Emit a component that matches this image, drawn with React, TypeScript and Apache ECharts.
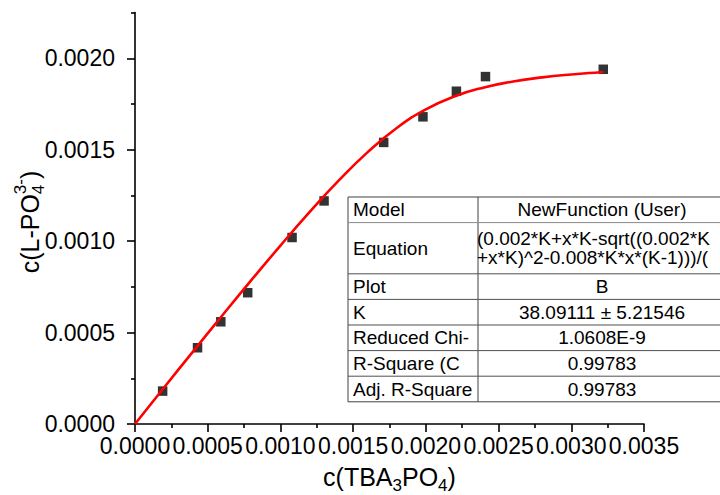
import React, { useEffect, useRef } from "react";
import * as echarts from "echarts";

// Measured binding data: c(TBA3PO4) vs c(L-PO4 3-)
const concTBA = [0.00019, 0.00043, 0.00059, 0.000775, 0.00108, 0.0013, 0.00171, 0.00198, 0.00221, 0.00241, 0.00322];
const concBound = [0.00018, 0.000417, 0.000559, 0.000718, 0.00102, 0.00122, 0.00154, 0.00168, 0.00182, 0.0019, 0.00194];

// Fitted curve (NewFunction, K = 38.09111) sampled along x
const fitX = [0, 0.0002, 0.0004, 0.0006, 0.0008, 0.001, 0.0012, 0.0014, 0.0016, 0.0018, 0.002, 0.0022, 0.0024, 0.0026, 0.0028, 0.003, 0.0032, 0.00322];
const fitY = [0, 0.0001994, 0.0003974, 0.0005934, 0.0007866, 0.0009756, 0.0011582, 0.0013306, 0.0014869, 0.0016192, 0.0017211, 0.0017928, 0.0018409, 0.0018732, 0.0018957, 0.0019118, 0.0019239, 0.0019249];

// Axis ticks
const yMajorTicks = [0, 0.0005, 0.001, 0.0015, 0.002];
const yMinorTicks = [0.00025, 0.00075, 0.00125, 0.00175, 0.00225];

// Fit report table
const tableLabels = ["Model", "Equation", "Plot", "K", "Reduced Chi-", "R-Square (C", "Adj. R-Square"];
const tableValues = [
  "NewFunction (User)",
  "(0.002*K+x*K-sqrt((0.002*K\n+x*K)^2-0.008*K*x*(K-1)))/(",
  "B",
  "38.09111 \u00b1 5.21546",
  "1.0608E-9",
  "0.99783",
  "0.99783",
];
const tableRowUnits = [1, 2, 1, 1, 1, 1, 1];

const FONT = '"Liberation Sans", Arial, Helvetica, sans-serif';

function measure(text: string, size: number): number {
  const ctx = document.createElement("canvas").getContext("2d");
  if (!ctx) return text.length * size * 0.55;
  ctx.font = `${size}px "Liberation Sans", Arial, sans-serif`;
  return ctx.measureText(text).width;
}

type Piece = { text: string; size: number; dy: number; stackWithPrev?: boolean };

// Lay out a run of text pieces (base text, subscripts, superscripts) left to right
function buildRun(pieces: Piece[]) {
  const out: any[] = [];
  let cursor = 0;
  let prevStart = 0;
  let prevWidth = 0;
  pieces.forEach((p) => {
    const w = measure(p.text, p.size);
    let x = cursor;
    if (p.stackWithPrev) {
      x = prevStart;
      cursor = prevStart + Math.max(prevWidth, w);
    } else {
      cursor += w;
    }
    prevStart = x;
    prevWidth = w;
    out.push({
      type: "text",
      x,
      y: p.dy,
      style: {
        text: p.text,
        fontSize: p.size,
        fontFamily: FONT,
        fill: "#000",
        align: "left",
        verticalAlign: "middle",
      },
    });
  });
  return { children: out, width: cursor };
}

function buildTable() {
  const left = 348;
  const top = 197;
  const divider = 478;
  const right = 726;
  const unit = 25.6;
  const totalH = tableRowUnits.reduce((a, b) => a + b, 0) * unit;
  const els: any[] = [];
  els.push({
    type: "rect",
    shape: { x: left, y: top, width: right - left, height: totalH },
    style: { fill: "#fff", stroke: "#404040", lineWidth: 1 },
  });
  els.push({
    type: "line",
    shape: { x1: divider, y1: top, x2: divider, y2: top + totalH },
    style: { stroke: "#404040", lineWidth: 1 },
  });
  let y = top;
  tableLabels.forEach((label, i) => {
    const h = tableRowUnits[i] * unit;
    if (i > 0) {
      els.push({
        type: "line",
        shape: { x1: left, y1: y, x2: right, y2: y },
        style: { stroke: i === 1 ? "#8a8a8a" : "#505050", lineWidth: 1 },
      });
    }
    els.push({
      type: "text",
      x: left + 5,
      y: y + h / 2,
      style: { text: label, fontSize: 19, fontFamily: FONT, fill: "#000", align: "left", verticalAlign: "middle" },
    });
    const multi = tableValues[i].includes("\n");
    els.push({
      type: "text",
      x: multi ? divider - 1 : (divider + right) / 2,
      y: y + h / 2,
      style: {
        text: tableValues[i],
        fontSize: 19,
        lineHeight: 19,
        fontFamily: FONT,
        fill: "#000",
        align: multi ? "left" : "center",
        verticalAlign: "middle",
      },
    });
    y += h;
  });
  return els;
}

export default function App() {
  const ref = useRef<HTMLDivElement>(null);

  useEffect(() => {
    if (!ref.current) return;
    const chart = echarts.init(ref.current, null, { renderer: "svg" });

    const xTitle = buildRun([
      { text: "c(TBA", size: 25, dy: 0 },
      { text: "3", size: 17, dy: 8 },
      { text: "PO", size: 25, dy: 0 },
      { text: "4", size: 17, dy: 8 },
      { text: ")", size: 25, dy: 0 },
    ]);
    const yTitle = buildRun([
      { text: "c(L-PO", size: 25, dy: 0 },
      { text: "4", size: 17, dy: 8 },
      { text: "3-", size: 17, dy: -10, stackWithPrev: true },
      { text: ")", size: 25, dy: 0 },
    ]);

    const tickFmt = (v: number) => {
      const r = v / 0.0005;
      return Math.abs(r - Math.round(r)) < 1e-6 ? v.toFixed(4) : "";
    };

    const axisLine = { show: true, lineStyle: { color: "#000", width: 1.6 } };

    chart.setOption({
      animation: false,
      backgroundColor: "#fff",
      grid: { left: 135, right: 76, top: 12.6, bottom: 71, containLabel: false, outerBoundsMode: "none" },
      xAxis: {
        type: "value",
        min: 0,
        max: 0.0035,
        interval: 0.0005,
        axisLine,
        axisTick: { show: true, inside: false, length: 8, lineStyle: { color: "#000", width: 1.6 } },
        minorTick: { show: true, splitNumber: 2, length: 4, lineStyle: { color: "#000", width: 1.6 } },
        axisLabel: { fontSize: 23, fontFamily: FONT, color: "#000", margin: 10, formatter: tickFmt },
        splitLine: { show: false },
        minorSplitLine: { show: false },
      },
      yAxis: [
        {
          type: "value",
          position: "left",
          min: 0,
          max: 0.00225,
          interval: 0.0005,
          axisLine,
          axisTick: {
            show: true,
            inside: false,
            length: 8,
            customValues: yMajorTicks,
            lineStyle: { color: "#000", width: 1.6 },
          },
          axisLabel: {
            fontSize: 23,
            fontFamily: FONT,
            color: "#000",
            margin: 20,
            customValues: yMajorTicks,
            formatter: tickFmt,
          },
          splitLine: { show: false },
        },
        {
          type: "value",
          position: "left",
          offset: 0,
          min: 0,
          max: 0.00225,
          interval: 0.00025,
          axisLine: { show: false },
          axisTick: {
            show: true,
            inside: false,
            length: 4,
            customValues: yMinorTicks,
            lineStyle: { color: "#000", width: 1.6 },
          },
          axisLabel: { show: false },
          splitLine: { show: false },
        },
      ],
      series: [
        {
          type: "scatter",
          yAxisIndex: 0,
          symbol: "rect",
          symbolSize: 9.5,
          itemStyle: { color: "#000" },
          data: concTBA.map((x, i) => [x, concBound[i]]),
        },
        {
          type: "line",
          yAxisIndex: 0,
          showSymbol: false,
          smooth: true,
          lineStyle: { color: "#ff0000", width: 2.6 },
          data: fitX.map((x, i) => [x, fitY[i]]),
        },
      ],
      graphic: [
        {
          type: "group",
          x: 389.5 - xTitle.width / 2,
          y: 477,
          children: xTitle.children,
        },
        {
          type: "group",
          x: 30,
          y: 222 + yTitle.width / 2,
          rotation: Math.PI / 2,
          children: yTitle.children,
        },
        ...buildTable(),
      ],
    });

    return () => chart.dispose();
  }, []);

  return <div ref={ref} style={{ position: "absolute", left: 0, top: 0, width: 720, height: 495 }} />;
}
